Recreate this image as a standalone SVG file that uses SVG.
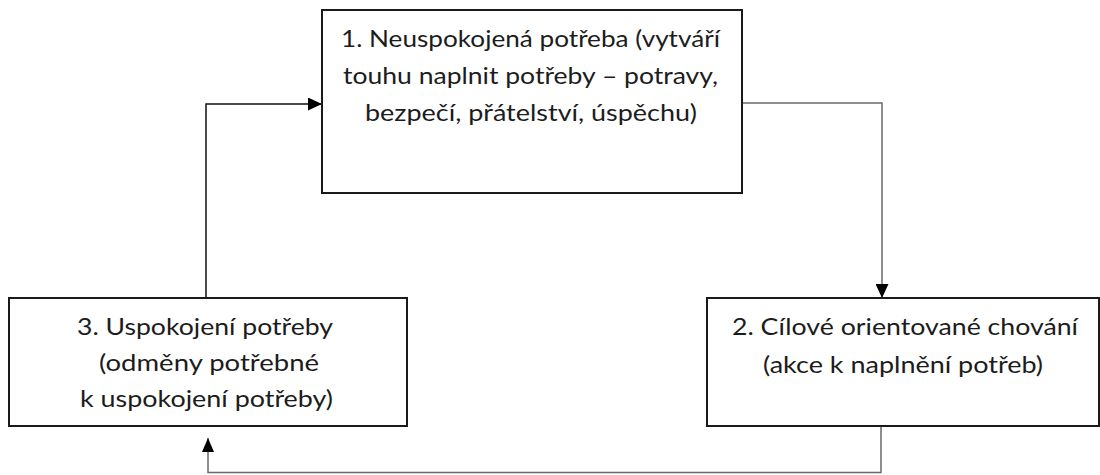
<svg xmlns="http://www.w3.org/2000/svg" width="1100" height="475" viewBox="0 0 1100 475">
<style>
.box{fill:#fff;stroke:#1a1a1a;stroke-width:2}
.t{font-family:Lato,"Open Sans","Liberation Sans",sans-serif;font-size:23px;fill:#1c1c1c}
.c{fill:none;stroke-width:1.5}
.k{stroke:#111}
.g{stroke:#6a6a6a}
</style>
<defs>
<marker id="ah" markerUnits="userSpaceOnUse" markerWidth="14" markerHeight="13" refX="14" refY="6.5" orient="auto">
<path d="M0,0 L14,6.5 L0,13 Z" fill="#000"/>
</marker>
<marker id="ahs" markerUnits="userSpaceOnUse" markerWidth="14" markerHeight="12" refX="14" refY="6" orient="auto">
<path d="M0,0 L14,6 L0,12 Z" fill="#000"/>
</marker>
</defs>
<g id="connectors">
<path class="c k" d="M206,298 V104 H322" marker-end="url(#ah)"/>
<path class="c g" d="M742,103 H882 V298" marker-end="url(#ah)"/>
<path class="c g" d="M881,426 V472.5 H208 V438" marker-end="url(#ahs)"/>
</g>
<g id="node1">
<rect class="box" x="322" y="10" width="420" height="183"/>
<text class="t" x="530.5" y="47" text-anchor="middle" textLength="379" lengthAdjust="spacingAndGlyphs">1. Neuspokojená potřeba (vytváří</text>
<text class="t" x="530.5" y="84" text-anchor="middle" textLength="375" lengthAdjust="spacingAndGlyphs">touhu naplnit potřeby – potravy,</text>
<text class="t" x="531" y="121" text-anchor="middle" textLength="332" lengthAdjust="spacingAndGlyphs">bezpečí, přátelství, úspěchu)</text>
</g>
<g id="node2">
<rect class="box" x="707" y="298" width="392" height="128"/>
<text class="t" x="905" y="335" text-anchor="middle" textLength="346" lengthAdjust="spacingAndGlyphs">2.  Cílové orientované chování</text>
<text class="t" x="903" y="373" text-anchor="middle" textLength="280" lengthAdjust="spacingAndGlyphs">(akce k naplnění potřeb)</text>
</g>
<g id="node3">
<rect class="box" x="9" y="298" width="398" height="128"/>
<text class="t" x="205" y="335" text-anchor="middle" textLength="256" lengthAdjust="spacingAndGlyphs">3. Uspokojení potřeby</text>
<text class="t" x="209" y="371" text-anchor="middle" textLength="220" lengthAdjust="spacingAndGlyphs">(odměny potřebné</text>
<text class="t" x="206.5" y="407" text-anchor="middle" textLength="253" lengthAdjust="spacingAndGlyphs">k uspokojení potřeby)</text>
</g>
</svg>
